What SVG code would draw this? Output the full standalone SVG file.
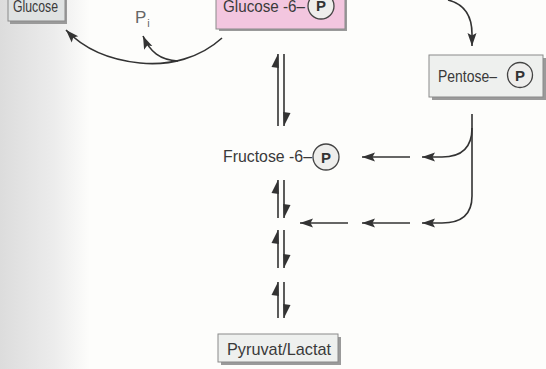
<svg xmlns="http://www.w3.org/2000/svg" width="546" height="369" viewBox="0 0 546 369">
<style>
.ln{fill:none;stroke:#333;stroke-width:1.6}
.t{font-family:"Liberation Sans",Arial,sans-serif;font-size:17px;fill:#3a3a3a}
.pc{fill:#eeeeec;stroke:#444;stroke-width:1.3}
.pt{font-family:"Liberation Sans",Arial,sans-serif;font-size:15px;font-weight:bold;fill:#333;text-anchor:middle}
.shadow{fill:#9a9a9a}
.box{stroke:#8a8a8a;stroke-width:1}
</style>
<defs>
<linearGradient id="bleed" x1="0" y1="0" x2="1" y2="0">
<stop offset="0" stop-color="#dcdcdc"/>
<stop offset="0.6" stop-color="#ececec"/>
<stop offset="1" stop-color="#fdfdfb"/>
</linearGradient>
<marker id="ah" markerUnits="userSpaceOnUse" markerWidth="16" markerHeight="12" refX="13" refY="4.5" orient="auto" overflow="visible">
<path d="M13,4.5 L0,0 L2.5,4.5 L0,9 z" fill="#333"/>
</marker>
<marker id="hp" markerUnits="userSpaceOnUse" markerWidth="16" markerHeight="10" refX="14" refY="7" orient="auto" overflow="visible">
<path d="M14,7 L0,7.8 L1,0.5 z" fill="#333"/>
</marker>
</defs>
<rect width="546" height="369" fill="#fdfdfb"/>
<rect width="90" height="369" fill="url(#bleed)"/>

<g id="glucose">
<rect class="shadow" x="10" y="-4" width="57" height="28"/>
<rect class="box" x="8" y="-6" width="57" height="27" fill="#dfe2e2"/>
<text class="t" x="13" y="12" textLength="45" lengthAdjust="spacingAndGlyphs">Glucose</text>
</g>

<g id="g6p">
<rect class="shadow" x="219" y="-4" width="128" height="35"/>
<rect class="box" x="216" y="-6" width="129" height="35" fill="#f3c6df"/>
<text class="t" x="223" y="12" textLength="82" lengthAdjust="spacingAndGlyphs">Glucose -6–</text>
<circle class="pc" cx="321" cy="6" r="13" fill="#f3c6df"/>
<text class="pt" x="321" y="11">P</text>
</g>

<g id="pentose">
<rect class="shadow" x="432" y="58" width="114" height="42"/>
<rect class="box" x="429" y="55" width="114" height="42" fill="#eef0ee"/>
<text class="t" x="438" y="82" textLength="59" lengthAdjust="spacingAndGlyphs">Pentose–</text>
<circle class="pc" cx="520" cy="75" r="12.5"/>
<text class="pt" x="520" y="80.5">P</text>
</g>

<g id="f6p">
<text class="t" x="223" y="162" textLength="89" lengthAdjust="spacingAndGlyphs">Fructose -6–</text>
<circle class="pc" cx="326" cy="157" r="13"/>
<text class="pt" x="326" y="162.5">P</text>
</g>

<g id="pyruvat">
<rect class="shadow" x="221" y="337" width="120" height="28"/>
<rect class="box" x="218" y="334" width="120" height="28" fill="#eef0ee"/>
<text class="t" x="227" y="355" textLength="104" lengthAdjust="spacingAndGlyphs">Pyruvat/Lactat</text>
</g>

<g id="pi">
<text class="t" x="135" y="23" style="fill:#666">P<tspan dx="1" dy="4" style="font-size:11px">i</tspan></text>
</g>

<g id="connectors">
<path class="ln" d="M222,38 C200,58 170,66 140,63 C110,60 85,50 66,30" marker-end="url(#ah)"/>
<path class="ln" d="M178,61 C160,60 150,52 143,36" marker-end="url(#ah)"/>
<path class="ln" d="M448,0 Q472,6 472,34 L472,46" marker-end="url(#ah)"/>
<line class="ln" x1="278" y1="126" x2="278" y2="54" marker-end="url(#hp)"/>
<line class="ln" x1="284" y1="54" x2="284" y2="126" marker-end="url(#hp)"/>
<line class="ln" x1="278" y1="218" x2="278" y2="180" marker-end="url(#hp)"/>
<line class="ln" x1="284" y1="180" x2="284" y2="218" marker-end="url(#hp)"/>
<line class="ln" x1="278" y1="268" x2="278" y2="230" marker-end="url(#hp)"/>
<line class="ln" x1="284" y1="230" x2="284" y2="268" marker-end="url(#hp)"/>
<line class="ln" x1="278" y1="318" x2="278" y2="282" marker-end="url(#hp)"/>
<line class="ln" x1="284" y1="282" x2="284" y2="318" marker-end="url(#hp)"/>
<path class="ln" d="M472,114 L472,196 Q472,223 442,223 L422,223" marker-end="url(#ah)"/>
<path class="ln" d="M472,128 Q472,157 442,157 L422,157" marker-end="url(#ah)"/>
<line class="ln" x1="410" y1="157" x2="362" y2="157" marker-end="url(#ah)"/>
<line class="ln" x1="410" y1="223" x2="362" y2="223" marker-end="url(#ah)"/>
<line class="ln" x1="348" y1="223" x2="300" y2="223" marker-end="url(#ah)"/>
</g>
</svg>
